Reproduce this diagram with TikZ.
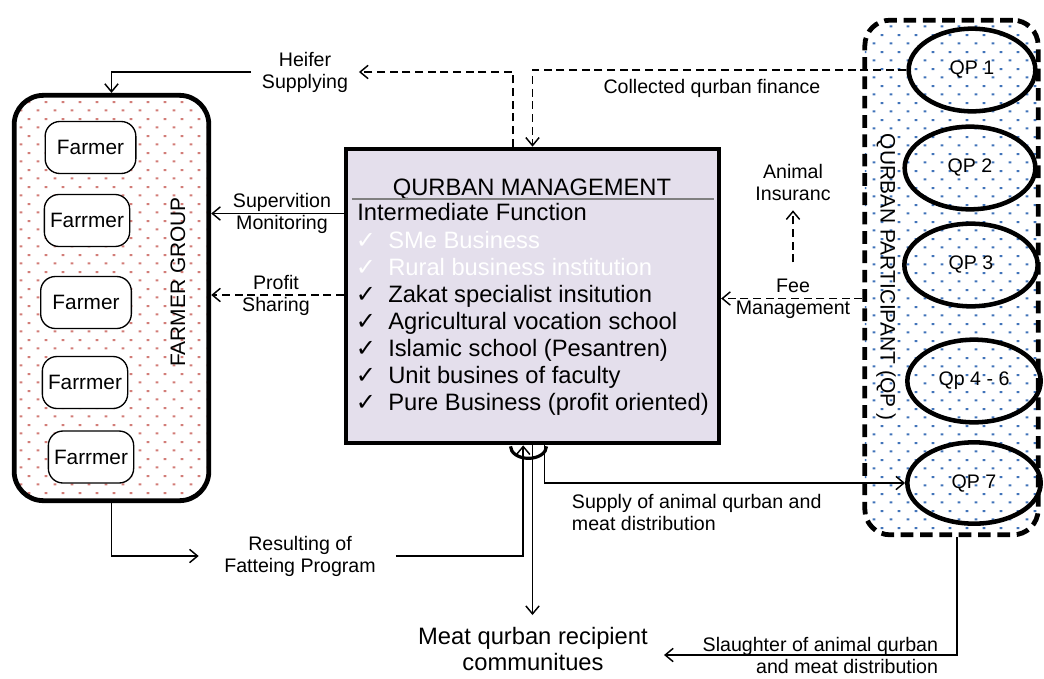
\documentclass[tikz,border=0pt]{standalone}
\usepackage{fontspec}
\setmainfont{Liberation Sans}
\newfontfamily\checkfont{DejaVu Sans}
\usetikzlibrary{shapes.geometric,arrows.meta,patterns.meta}

\definecolor{mgmtfill}{RGB}{228,223,236}
\definecolor{pinkdot}{RGB}{210,125,120}
\definecolor{bluedot}{RGB}{65,115,185}
\definecolor{ruleline}{RGB}{128,128,128}

\tikzdeclarepattern{
  name=dotgrid,
  type=uncolored,
  bounding box={(0pt,0pt) and (12.8pt,13pt)},
  tile size={(12.8pt,13pt)},
  code={
    \fill (2pt,2pt) rectangle (4.2pt,3.5pt);
    \fill (8.4pt,8.5pt) rectangle (10.6pt,10pt);
  }
}

\tikzset{
  sline/.style={line width=1.1pt,-{Straight Barb[length=6pt,width=10pt]}},
  dline/.style={line width=1.1pt,dash pattern=on 6pt off 3.5pt,-{Straight Barb[length=6pt,width=10pt]}},
  farmerbox/.style={draw,line width=1pt,fill=white,rounded corners=11pt,inner sep=0pt,font=\fontsize{15.6}{18}\selectfont},
  qpnode/.style={draw,ellipse,line width=3.4pt,inner sep=0pt,font=\fontsize{14.7}{17}\selectfont},
  lbl/.style={align=center,inner sep=2pt,font=\fontsize{14.7}{16.5}\selectfont},
  boxtext/.style={inner sep=0pt,text height=0.72em,text depth=0.25em,font=\fontsize{17.8}{21}\selectfont},
  grouptext/.style={inner sep=0pt,font=\fontsize{15.7}{18}\selectfont}
}

\begin{document}
\begin{tikzpicture}[x=0.75pt,y=0.75pt,yscale=-1,xscale=1]
\useasboundingbox (0,0) rectangle (1044,678);

%Farmer group
\node[draw,line width=3.6pt,rounded corners=22pt,minimum width=146pt,minimum height=304pt,pattern=dotgrid,pattern color=pinkdot] (grp) at (111.5,298) {};
\node[farmerbox,minimum width=68pt,minimum height=39pt] (f1) at (90.5,147.5) {Farmer};
\node[farmerbox,minimum width=64pt,minimum height=39pt] (f2) at (87,220.5) {Farrmer};
\node[farmerbox,minimum width=68pt,minimum height=39pt] (f3) at (86,302.5) {Farmer};
\node[farmerbox,minimum width=64pt,minimum height=39pt] (f4) at (85,382.5) {Farrmer};
\node[farmerbox,minimum width=64pt,minimum height=39pt] (f5) at (91,457) {Farrmer};
\node[grouptext,rotate=90] (grplbl) at (178,282) {FARMER GROUP};

%Qurban participants
\node[draw,line width=3.6pt,dash pattern=on 9.5pt off 5pt,rounded corners=19pt,minimum width=130pt,minimum height=386pt,pattern=dotgrid,pattern color=bluedot] (qpgrp) at (951.5,277.5) {};
\node[qpnode,minimum width=95pt,minimum height=62pt] (qp1) at (972,70) {QP 1};
\node[qpnode,minimum width=98pt,minimum height=62pt] (qp2) at (970,168) {QP 2};
\node[qpnode,minimum width=100pt,minimum height=62pt] (qp3) at (971,265) {QP 3};
\node[qpnode,minimum width=100pt,minimum height=62pt] (qp4) at (974,381) {Qp 4 - 6};
\node[qpnode,minimum width=100pt,minimum height=61pt] (qp7) at (974,483) {QP 7};
\node[grouptext,rotate=-90] (qplbl) at (886,277) {QURBAN PARTICIPANT (QP )};

%Management box
\node[draw,line width=3pt,fill=mgmtfill,minimum width=280pt,minimum height=221pt] (mgmt) at (532.5,296) {};
\node[boxtext] (title) at (532,192) {QURBAN MANAGEMENT};
\draw[ruleline,line width=1.6pt] (mgmt.north west) ++(8,52) -- ++(362,0);
\node[boxtext,anchor=west] (func) at (357,217) {Intermediate Function};
\foreach \txt/\col [count=\i] in {SMe Business/white,Rural business institution/white,Zakat specialist insitution/black,Agricultural vocation school/black,Islamic school (Pesantren)/black,Unit busines of faculty/black,Pure Business (profit oriented)/black}{
  \node[boxtext,text=\col,font=\fontsize{18}{20}\checkfont] (chk\i) at (366,218+27*\i) {✓};
  \node[boxtext,text=\col,anchor=west] (item\i) at (388,218+27*\i) {\txt};
}
\draw[line width=2.4pt] (mgmt.south) ++(-22,1) arc[start angle=180,end angle=0,x radius=18,y radius=12];

%Labels
\node[lbl,inner xsep=8pt] (heifer) at (305,72) {Heifer\\Supplying};
\node[lbl] (collect) at (712,88) {Collected qurban finance};
\node[lbl] (insur) at (793,182.5) {Animal\\Insuranc};
\node[lbl] (fee) at (793,298.5) {Fee\\Management};
\node[lbl] (superv) at (282,213.5) {Supervition\\Monitoring};
\node[lbl] (profit) at (276,295) {Profit\\Sharing};
\node[lbl] (result) at (300,556) {Resulting of\\Fatteing Program};
\node[lbl,align=left,anchor=west] (supply) at (569,512.5) {Supply of animal qurban and\\meat distribution};
\node[lbl,align=right,anchor=east] (slaughter) at (941,655) {Slaughter of animal qurban\\and meat distribution};
\node[align=center,inner sep=3pt,font=\fontsize{17.8}{19.5}\selectfont] (meat) at (533,649) {Meat qurban recipient\\communitues};

%Connectors
\draw[dline] (mgmt.north) ++(-19.5,0) |- (heifer.east);
\draw[sline] (heifer.west) -| (grp.north);
\draw[dline] (qp1.west) -| (mgmt.north);
\draw[dline] ([yshift=-10pt]fee.north) -- ([yshift=5pt]insur.south);
\draw[dline] (fee.center -| qpgrp.west) -- (fee.center -| mgmt.east);
\draw[sline] (superv.center -| mgmt.west) -- (superv.center -| grp.east);
\draw[dline] (profit.center -| mgmt.west) -- (profit.center -| grp.east);
\draw[sline] (grp.south) |- ([xshift=-17pt]result.west);
\draw[sline] ([xshift=13pt]result.east) -| ([xshift=-7pt]mgmt.south);
\draw[sline,shorten >=6pt] (mgmt.south) -- (mgmt.south |- meat.north);
\draw[sline] ([xshift=9pt]mgmt.south) |- (qp7.west);
\draw[sline,shorten >=9pt] ([xshift=4pt]qpgrp.south) |- ([yshift=4.5pt]meat.east);

\end{tikzpicture}
\end{document}
